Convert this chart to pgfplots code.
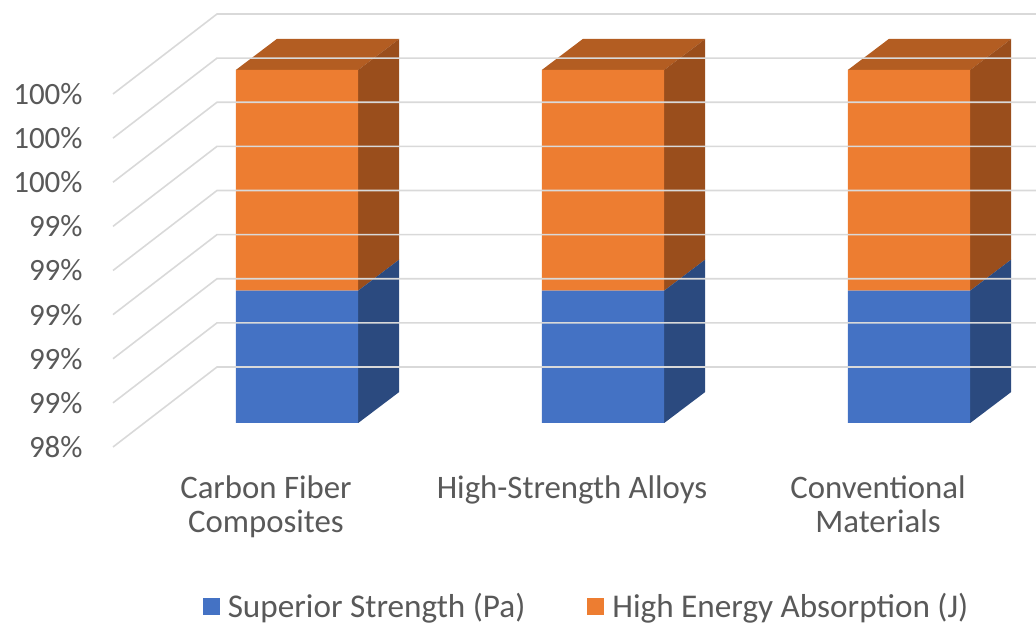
\documentclass[border=0pt]{standalone}
\usepackage{pgfplots}
\pgfplotsset{compat=1.18}
\usepackage{pgfplotstable}
\usepackage{fontspec}
\setmainfont{Carlito}

\definecolor{sblue}{HTML}{4472C4}
\definecolor{sblueside}{HTML}{2B4A7F}
\definecolor{sorange}{HTML}{ED7D31}
\definecolor{sorangeside}{HTML}{9A4E1C}
\definecolor{sorangetop}{HTML}{B35D22}
\definecolor{gridgray}{HTML}{D9D9D9}
\definecolor{lbl}{HTML}{595959}

% share of each property per material (percent of the stacked total)
\pgfplotstableread{
idx strength energy
0   99.0     1.0
1   99.0     1.0
2   99.0     1.0
}\shares

% 3-D depth: bar front -> bar back, front edge of floor, back wall
\def\bardepth{20.5pt,15.5pt}
% one gridline: slanted on the side wall, then straight along the back wall
\newcommand\gridat[1]{%
  \draw[gridgray, line width=0.8pt]
    ([shift={(-15.5pt,-12pt)}]axis cs:-0.5,#1)
    -- ([shift={(36.5pt,28pt)}]axis cs:-0.5,#1)
    -- ([shift={(36.5pt,28pt)}]axis cs:2.1765,#1);}
% right side face of a bar segment: x of right edge, bottom, top, colour
\newcommand\sideface[4]{%
  \fill[#4] (axis cs:#1,#2) -- ([shift={(\bardepth)}]axis cs:#1,#2)
    -- ([shift={(\bardepth)}]axis cs:#1,#3) -- (axis cs:#1,#3) -- cycle;}
% top face of a bar: left x, right x, top value
\newcommand\topface[3]{%
  \fill[sorangetop] (axis cs:#1,#3) -- (axis cs:#2,#3)
    -- ([shift={(\bardepth)}]axis cs:#2,#3)
    -- ([shift={(\bardepth)}]axis cs:#1,#3) -- cycle;}

\begin{document}
\begin{tikzpicture}
\useasboundingbox (0,0) rectangle (518pt,312pt);
\begin{axis}[
  at={(72pt,100.5pt)}, anchor=south west,
  scale only axis, width=459pt, height=176.5pt,
  xmin=-0.5, xmax=2.5, ymin=98.4, ymax=100,
  clip mode=individual,
  axis line style={draw=none},
  major tick length=0pt,
  ybar stacked, bar width=0.4,
  xtick={0,1,2},
  xticklabels={{Carbon Fiber\\Composites},{High-Strength Alloys},{Conventional\\Materials}},
  xticklabel style={align=center, anchor=north, inner sep=0pt,
    xshift=-15.5pt, yshift=-26pt, text=lbl,
    font=\fontsize{16.4}{17}\selectfont},
  ytick={98.4,98.6,98.8,99.0,99.2,99.4,99.6,99.8,100},
  yticklabels={98\%,99\%,99\%,99\%,99\%,99\%,100\%,100\%,100\%},
  yticklabel style={anchor=east, inner sep=0pt, xshift=-30.5pt,
    yshift=-12pt, text=lbl, font=\fontsize{15.5}{17}\selectfont},
  legend columns=2,
  legend image code/.code={\fill[#1] (0pt,-4pt) rectangle (8.5pt,4.5pt);},
  legend style={at={(0.4831,-0.5212)}, anchor=center, draw=none,
    fill=none, text=lbl, font=\fontsize{16.6}{17}\selectfont,
    /tikz/every odd column/.append style={column sep=2pt},
    /tikz/every even column/.append style={column sep=29pt}},
]
\gridat{98.4}\gridat{98.6}\gridat{98.8}\gridat{99.0}\gridat{99.2}
\gridat{99.4}\gridat{99.6}\gridat{99.8}\gridat{100}

\addplot[fill=sblue, draw=none] table[x=idx, y=strength] {\shares};
\addlegendentry{Superior Strength (Pa)}
\addplot[fill=sorange, draw=none] table[x=idx, y=energy] {\shares};
\addlegendentry{High Energy Absorption (J)}

% side and top faces of each column
\sideface{0.2}{98.4}{99.0}{sblueside}
\sideface{0.2}{99.0}{100}{sorangeside}
\topface{-0.2}{0.2}{100}
\sideface{1.2}{98.4}{99.0}{sblueside}
\sideface{1.2}{99.0}{100}{sorangeside}
\topface{0.8}{1.2}{100}
\sideface{2.2}{98.4}{99.0}{sblueside}
\sideface{2.2}{99.0}{100}{sorangeside}
\topface{1.8}{2.2}{100}
\end{axis}
\end{tikzpicture}
\end{document}
